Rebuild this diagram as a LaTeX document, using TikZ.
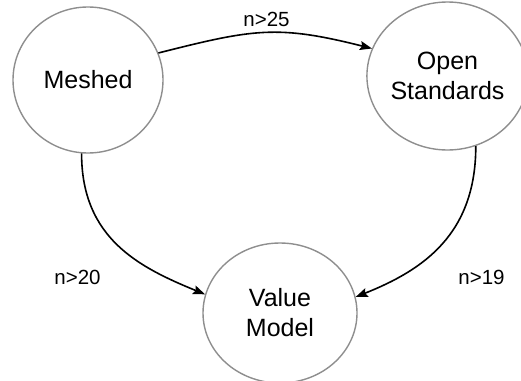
\documentclass[tikz,border=0pt]{standalone}
\usepackage{fontspec}
\setmainfont{Liberation Sans}
\usetikzlibrary{shapes.geometric,arrows.meta}
\definecolor{ringgray}{HTML}{8E8E8E}
\tikzset{
  state/.style={ellipse, draw=ringgray, line width=1.4pt, inner sep=0pt,
    align=center, font=\fontsize{25}{30}\selectfont},
  trans/.style={line width=1.6pt, -{Stealth[length=12pt,width=9pt,inset=2pt]}},
  cond/.style={font=\fontsize{20.5}{24}\selectfont}
}
\begin{document}
\begin{tikzpicture}[x=1pt,y=-1pt]
\useasboundingbox (0,0) rectangle (521,380);
\clip (0,0) rectangle (521,380);
% states
\node[state, minimum width=150pt, minimum height=146pt] (mesh) at (88,80) {Meshed};
\node[state, minimum width=145pt, minimum height=148pt] (open) at (447.5,76) {Open\\Standards};
\node[state, minimum width=154pt, minimum height=140pt] (value) at (280,313) {Value\\Model};
% transitions
\draw[trans] (mesh.21) .. controls +(95,-24) and +(-95,-24) .. (open.160);
\draw[trans] (mesh.265) .. controls +(0,85) and +(-66,-27) .. (value.166);
\draw[trans] (open.292) .. controls +(0,88) and +(68,-27) .. (value.12);
% conditions
\node[cond] (c1) at (266.5,19) {n>25};
\node[cond] (c2) at (77.5,277) {n>20};
\node[cond] (c3) at (481.5,277) {n>19};
\end{tikzpicture}
\end{document}
